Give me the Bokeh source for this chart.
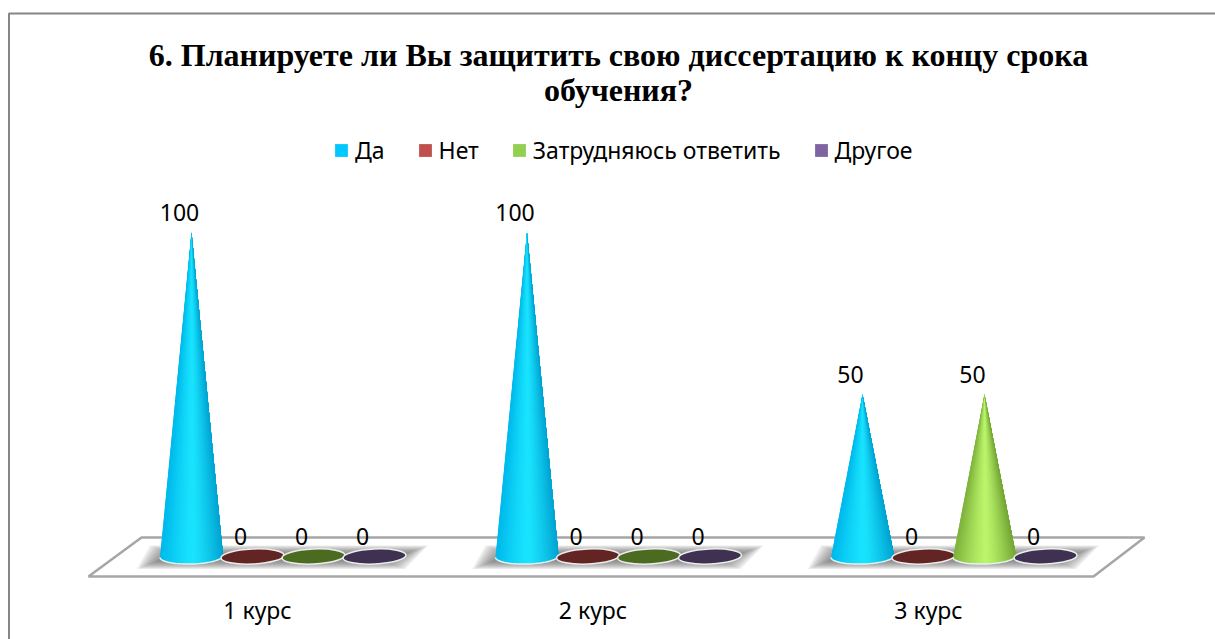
from bokeh.plotting import figure
from bokeh.models import Range1d, FixedTicker, Legend, LegendItem, Label
from bokeh.core.properties import value
from bokeh.embed import file_html
from bokeh.resources import INLINE
import math

categories = ["1 курс", "2 курс", "3 курс"]
series_names = ["Да", "Нет", "Затрудняюсь ответить", "Другое"]
da = [100, 100, 50]
net = [0, 0, 0]
zatr = [0, 0, 50]
drugoe = [0, 0, 0]
series_values = [da, net, zatr, drugoe]
legend_colors = ["#00C8FF", "#C0504D", "#92D050", "#8064A2"]
disc_colors = ["#007A9E", "#632523", "#4A6B20", "#3F3151"]
cone_left = [(0, 186, 236), (150, 50, 48), (128, 180, 60), (90, 70, 120)]
cone_right = [(0, 160, 208), (130, 40, 40), (112, 162, 50), (80, 60, 110)]
cone_mid = [(26, 228, 255), (200, 90, 88), (188, 246, 108), (140, 110, 180)]

W, H = 1215, 639
PX_X = 335.5
PX_Y = 3.24
ORIGIN_X = 282.5
ORIGIN_Y = 556
STEP = 61 / PX_X
HALF_W = 31.5 / PX_X
HALF_H = 7.5 / PX_Y
TILT = 0.9 / PX_Y


def dx(px):
    return (px - ORIGIN_X) / PX_X


def dy(py):
    return (ORIGIN_Y - py) / PX_Y


p = figure(width=W, height=H, output_backend="svg", toolbar_location=None,
           x_range=Range1d(dx(0), dx(W)), y_range=Range1d(dy(H), dy(0)),
           min_border=0, min_border_left=0, min_border_right=0, min_border_top=0, min_border_bottom=0,
           background_fill_color="white", border_fill_color="white")
p.grid.visible = False
p.yaxis.visible = False
p.outline_line_color = None

# chart border
p.line([dx(8.5), dx(8.5), dx(W + 3)], [dy(H + 3), dy(13), dy(13)], line_color="#868686", line_width=2)

# floor
p.patch([dx(88), dx(1093), dx(1144), dx(141)], [dy(576), dy(576), dy(537), dy(537)],
        fill_color="white", line_color="#A6A6A6", line_width=2.5)

# shadows
LAYERS = 12
for i in range(len(categories)):
    for k in range(LAYERS):
        q = k * 2.2
        v = k * 0.85
        xs = [i + (a / PX_X) for a in (-146 + q, 122 - q, 145 - q, -133 + q)]
        ys = [(-12.5 + v) / PX_Y, (-12.5 + v) / PX_Y, (11 - v) / PX_Y, (11 - v) / PX_Y]
        p.patch(xs, ys, fill_color="#6E6E6E", fill_alpha=0.12, line_color=None)

# discs (zero values) and cones
legend_items = []
N = 36
for j, (name, vals) in enumerate(zip(series_names, series_values)):
    xc = [i + (j - 1.5) * STEP for i in range(len(vals))]
    flat_x = [x for x, v in zip(xc, vals) if v == 0]
    flat_v = [v for v in vals if v == 0]
    if flat_x:
        p.ellipse(x=flat_x, y=flat_v, width=63, height=15, width_units="screen", height_units="screen",
                  angle=0.045, fill_color=disc_colors[j], line_color="#EDEDED", line_width=1.5)
    sx, sy, sc = [], [], []
    rim_x, rim_y = [], []
    for x0, v in zip(xc, vals):
        if v == 0:
            continue
        ts = [math.pi * (1 - k / N) for k in range(N + 1)]
        bx = [x0 + HALF_W * math.cos(t) for t in ts]
        by = [-HALF_H * math.sin(t) + TILT * math.cos(t) for t in ts]
        # each slice runs from its own left edge to the cone's right side, painted left to
        # right, so that no background shows between neighbouring slices
        for k in range(N):
            sx.append([x0] + bx[k:])
            sy.append([v] + by[k:])
            s = ((bx[k] + bx[k + 1]) / 2 - x0) / HALF_W
            e = cone_left[j] if s < 0.04 else cone_right[j]
            u = abs(s - 0.04)
            w = max(0.0, 1 - min(u, 1) ** 1.3)
            m = cone_mid[j]
            sc.append("#%02x%02x%02x" % tuple(int(e[c] + (m[c] - e[c]) * w) for c in range(3)))
        rim_x.append(bx)
        rim_y.append(by)
    if sx:
        p.patches(sx, sy, fill_color=sc, line_color=None)
        p.multi_line(rim_x, rim_y, line_color="#E6F4F4", line_width=1.5)
    # data labels
    p.text(x=xc, y=vals, text=[str(v) for v in vals], text_align="center", text_baseline="middle",
           x_offset=-12, y_offset=-20, text_font=value("Noto Sans"), text_font_size="23px", text_color="#000000")
    r = p.quad(left=[xc[0]], right=[xc[0]], bottom=[-300], top=[-300], fill_color=legend_colors[j], line_color=None)
    legend_items.append(LegendItem(label=name, renderers=[r]))

# category axis
p.xaxis.fixed_location = dy(597.5)
tick_pos = [i - 25.5 / PX_X for i in range(len(categories))]
p.xaxis.ticker = FixedTicker(ticks=tick_pos)
p.xaxis.major_label_overrides = dict(zip(tick_pos, categories))
p.xaxis.axis_line_color = None
p.xaxis.major_tick_line_color = None
p.xaxis.minor_tick_line_color = None
p.xaxis.major_label_standoff = -10
p.xaxis.major_label_text_font = "Noto Sans"
p.xaxis.major_label_text_font_size = "23px"
p.xaxis.major_label_text_color = "#000000"

# legend
leg = Legend(items=legend_items, orientation="horizontal", location=(333, H - 166), spacing=32,
             glyph_width=16, glyph_height=16, label_text_font="Noto Sans", label_text_font_size="23px",
             label_text_color="#000000", border_line_color=None, background_fill_alpha=0,
             label_standoff=6, margin=0, padding=0)
p.add_layout(leg, "center")

# title
for line, yp in (("6. Планируете ли Вы защитить свою диссертацию к концу срока", 54),
                 ("обучения?", 89.5)):
    p.add_layout(Label(x=618, y=H - yp, x_units="screen", y_units="screen", text=line,
                       text_align="center", text_baseline="middle", text_font="Liberation Serif",
                       text_font_style="bold", text_font_size="32px", text_color="#000000"))

open("out.html", "w").write(file_html(p, INLINE))
